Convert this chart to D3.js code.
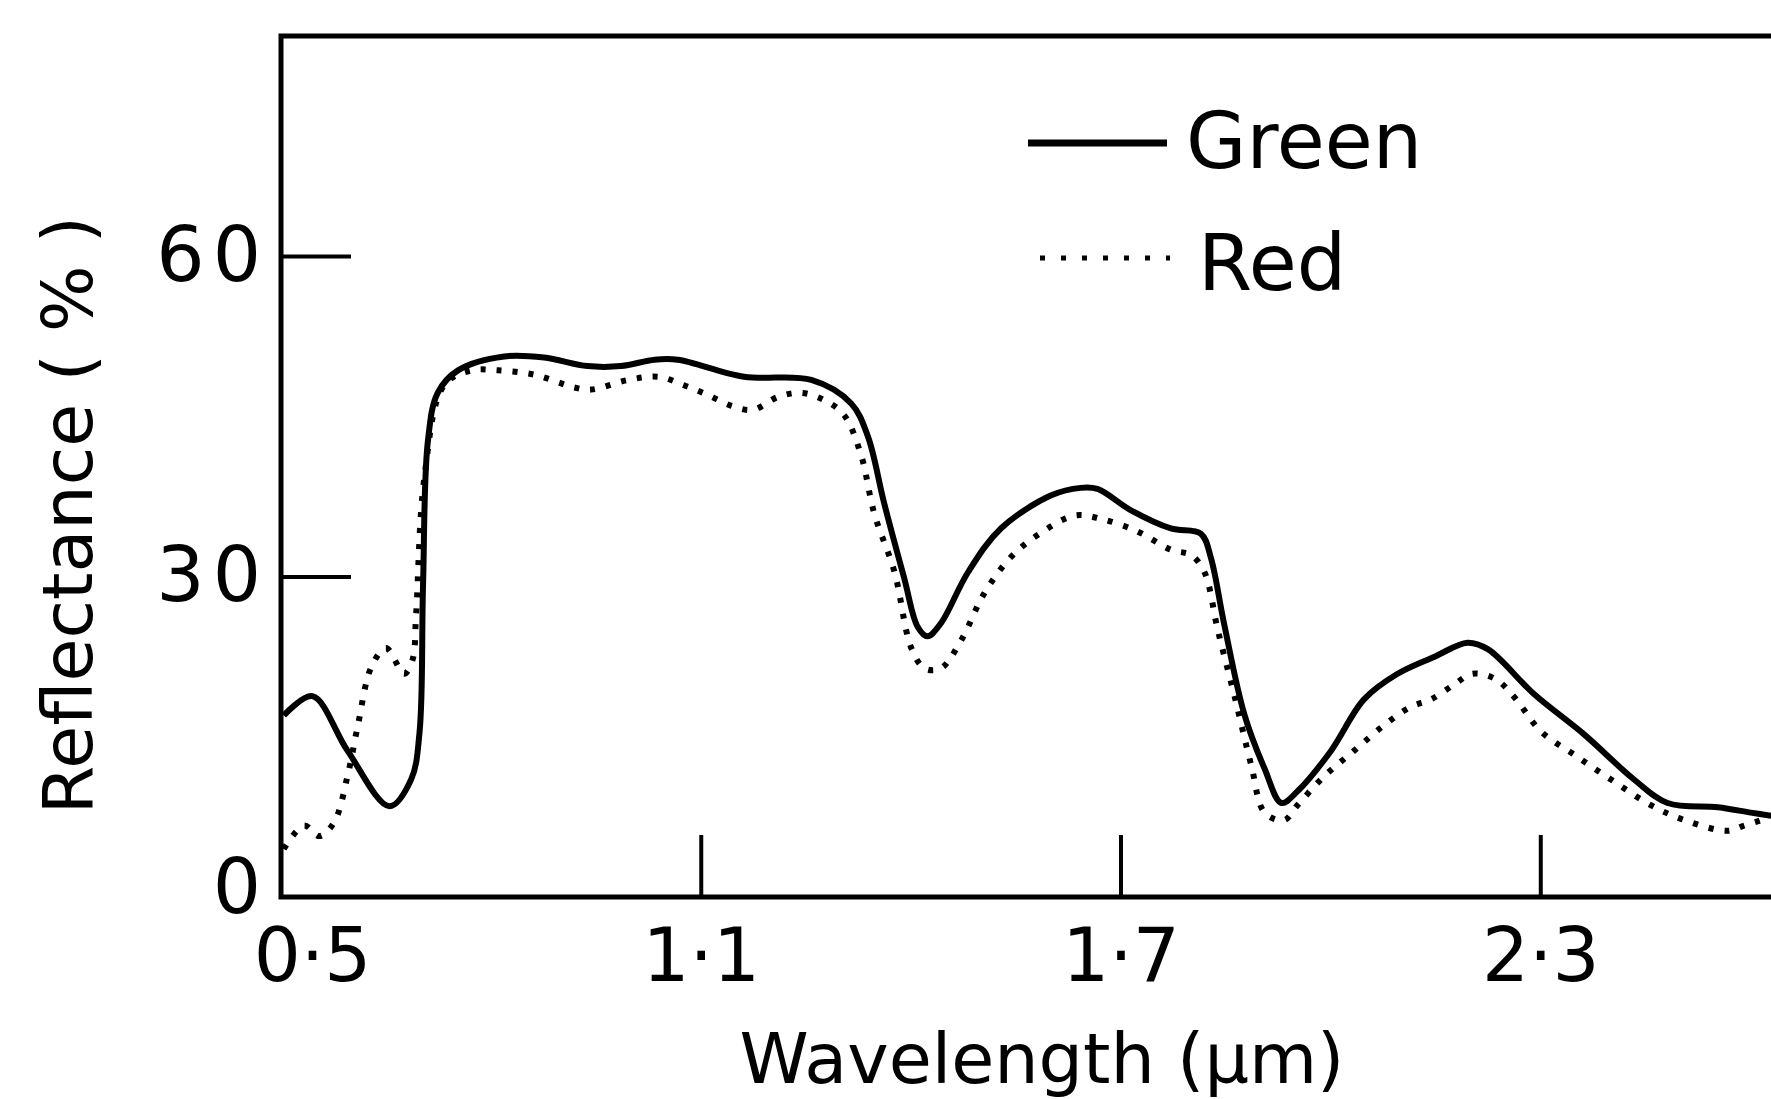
<!DOCTYPE html>
<html>
<head>
<meta charset="utf-8">
<script src="https://cdn.jsdelivr.net/npm/d3@7"></script>
<style>
  html, body { margin: 0; padding: 0; background: #fff; }
  svg { display: block; }
  text { font-family: "DejaVu Sans", sans-serif; fill: #000; }
</style>
</head>
<body>
<svg id="chart" width="1771" height="1099"></svg>
<script>
// ---- data ----
const greenWavelength = [0.504, 0.545, 0.595, 0.655, 0.686, 0.698, 0.703, 0.710, 0.724, 0.753, 0.819, 0.876, 0.938, 0.986, 1.034, 1.067, 1.162, 1.258, 1.315, 1.339, 1.362, 1.391, 1.410, 1.424, 1.443, 1.482, 1.529, 1.601, 1.643, 1.667, 1.715, 1.772, 1.815, 1.829, 1.848, 1.877, 1.906, 1.930, 1.953, 2.001, 2.048, 2.096, 2.149, 2.196, 2.225, 2.291, 2.363, 2.434, 2.482, 2.554, 2.601, 2.630];
const greenReflectance = [17.0, 18.8, 13.7, 8.5, 11.0, 15.4, 29.1, 42.7, 47.2, 49.3, 50.6, 50.5, 49.7, 49.7, 50.3, 50.3, 48.7, 48.4, 46.2, 43.1, 36.9, 29.8, 25.3, 24.4, 25.6, 30.4, 34.5, 37.6, 38.3, 38.2, 36.2, 34.5, 34.0, 31.8, 25.6, 17.1, 12.0, 8.8, 9.9, 13.7, 18.5, 20.9, 22.5, 23.8, 23.2, 19.0, 15.2, 11.0, 8.8, 8.4, 7.9, 7.6];

const redWavelength = [0.504, 0.533, 0.555, 0.576, 0.595, 0.610, 0.629, 0.650, 0.676, 0.688, 0.693, 0.705, 0.733, 0.772, 0.810, 0.862, 0.919, 0.943, 0.996, 1.040, 1.076, 1.110, 1.143, 1.174, 1.210, 1.243, 1.277, 1.305, 1.329, 1.348, 1.377, 1.401, 1.420, 1.443, 1.472, 1.505, 1.543, 1.582, 1.634, 1.672, 1.725, 1.772, 1.801, 1.820, 1.839, 1.863, 1.887, 1.906, 1.934, 1.953, 1.991, 2.034, 2.077, 2.115, 2.144, 2.177, 2.203, 2.236, 2.263, 2.301, 2.349, 2.401, 2.458, 2.506, 2.568, 2.592, 2.616, 2.630];
const redReflectance = [4.5, 6.7, 5.7, 7.0, 11.3, 16.1, 21.5, 23.3, 20.9, 22.2, 26.3, 39.3, 47.9, 49.3, 49.3, 48.9, 47.7, 47.5, 48.4, 48.7, 47.9, 47.0, 46.0, 45.6, 46.8, 47.2, 46.5, 45.1, 41.4, 35.9, 30.4, 23.3, 21.4, 21.4, 24.0, 28.4, 31.8, 33.9, 35.7, 35.4, 34.2, 32.5, 32.0, 30.4, 25.0, 18.8, 12.3, 7.9, 7.2, 8.6, 11.3, 13.7, 16.1, 17.8, 18.5, 19.9, 20.9, 20.4, 18.7, 15.5, 13.3, 11.0, 8.6, 7.2, 6.2, 6.7, 7.2, 7.6];

const xTicks = [0.5, 1.1, 1.7, 2.3];
const xTickLabels = ["0·5", "1·1", "1·7", "2·3"];
const yTicks = [0, 30, 60];
const yTickLabels = ["0", "30", "60"];
const seriesNames = ["Green", "Red"];
const xTitle = "Wavelength (µm)";
const yTitle = "Reflectance ( % )";

// ---- layout ----
const svg = d3.select("#chart");
const mLeft = 281, mBottom = 897, mTop = 36, mRight = 1771;

const x = d3.scaleLinear().domain([0.5, 2.63]).range([mLeft, mLeft + 2.13 * 699.6]);
const y = d3.scaleLinear().domain([0, 80.6]).range([mBottom, mTop]);

// clip region for curves
svg.append("clipPath").attr("id", "plotclip")
  .append("rect").attr("x", mLeft).attr("y", mTop).attr("width", mRight - mLeft).attr("height", mBottom - mTop);

// frame: left axis, bottom axis, top border
svg.append("path")
  .attr("d", `M${mRight},${mTop}H${mLeft}V${mBottom}H${mRight}`)
  .attr("fill", "none").attr("stroke", "#000").attr("stroke-width", 5);

// x axis (ticks pointing inward)
const xAxis = d3.axisBottom(x)
  .tickValues(xTicks)
  .tickFormat((d, i) => xTickLabels[i])
  .tickSizeInner(-62).tickSizeOuter(0).tickPadding(31);
const gx = svg.append("g").attr("transform", `translate(0,${mBottom})`).call(xAxis);
gx.select(".domain").remove();
gx.selectAll(".tick line").attr("stroke", "#000").attr("stroke-width", 4)
  .filter(d => d === 0.5).remove();
gx.selectAll(".tick text").style("font-size", "74px").style("font-family", '"DejaVu Sans", sans-serif')
  .attr("fill", "#000")
  .attr("dx", d => d === 0.5 ? 31 : 0);

// y axis (ticks pointing inward)
const yAxis = d3.axisLeft(y)
  .tickValues(yTicks)
  .tickFormat((d, i) => yTickLabels[i])
  .tickSizeInner(-70).tickSizeOuter(0).tickPadding(20);
const gy = svg.append("g").attr("transform", `translate(${mLeft},0)`).call(yAxis);
gy.select(".domain").remove();
gy.selectAll(".tick line").attr("stroke", "#000").attr("stroke-width", 4)
  .filter(d => d === 0).remove();
gy.selectAll(".tick text").style("font-size", "76px").style("font-family", '"DejaVu Sans", sans-serif')
  .attr("fill", "#000").attr("letter-spacing", "8px")
  .attr("dx", "8px")
  .attr("dy", d => d === 0 ? "0.2em" : "0.32em");

// curves
const line = d3.line().x(d => x(d[0])).y(d => y(d[1])).curve(d3.curveCatmullRom.alpha(0.5));
const green = d3.zip(greenWavelength, greenReflectance);
const red = d3.zip(redWavelength, redReflectance);

const plot = svg.append("g").attr("clip-path", "url(#plotclip)");
plot.append("path").datum(red).attr("d", line)
  .attr("fill", "none").attr("stroke", "#000").attr("stroke-width", 6)
  .attr("stroke-dasharray", "5,11");
plot.append("path").datum(green).attr("d", line)
  .attr("fill", "none").attr("stroke", "#000").attr("stroke-width", 6)
  .attr("stroke-linejoin", "round");

// legend
const legend = svg.append("g");
legend.append("line").attr("x1", 1028).attr("x2", 1167).attr("y1", 143).attr("y2", 143)
  .attr("stroke", "#000").attr("stroke-width", 7);
legend.append("text").attr("x", 1186).attr("y", 168).style("font-size", "78px").text(seriesNames[0]);
legend.append("line").attr("x1", 1040).attr("x2", 1170).attr("y1", 258).attr("y2", 258)
  .attr("stroke", "#000").attr("stroke-width", 5).attr("stroke-dasharray", "5,16");
legend.append("text").attr("x", 1198).attr("y", 290).style("font-size", "78px").text(seriesNames[1]);

// axis titles
svg.append("text").attr("x", 1042).attr("y", 1083).attr("text-anchor", "middle")
  .style("font-size", "70px").text(xTitle);
svg.append("text").attr("transform", "translate(92,515) rotate(-90)").attr("text-anchor", "middle")
  .style("font-size", "70px").text(yTitle);
</script>
</body>
</html>
